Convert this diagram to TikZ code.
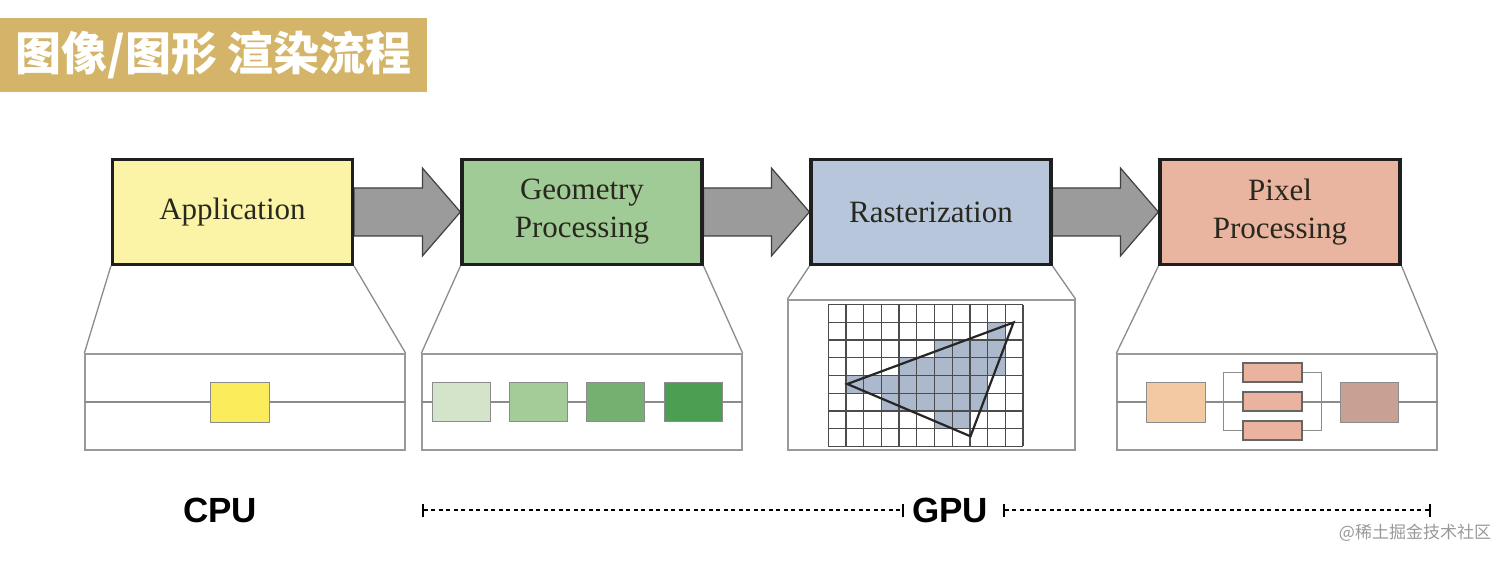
\documentclass[tikz,border=0pt]{standalone}
\usepackage{fontspec}
\setmainfont{Liberation Serif}
\newfontfamily\cjk{Noto Sans CJK SC}
\newfontfamily\hsans{Liberation Sans}
\usetikzlibrary{arrows.meta,calc}
\definecolor{titlebg}{RGB}{211,180,104}
\definecolor{appY}{RGB}{251,244,166}
\definecolor{geoG}{RGB}{160,203,150}
\definecolor{rasB}{RGB}{183,198,219}
\definecolor{pixR}{RGB}{233,180,160}
\definecolor{arrowgray}{RGB}{155,155,155}
\definecolor{yel}{RGB}{251,236,92}
\definecolor{g1}{RGB}{212,228,202}
\definecolor{g2}{RGB}{164,204,152}
\definecolor{g3}{RGB}{118,176,113}
\definecolor{g4}{RGB}{76,158,82}
\definecolor{p1}{RGB}{242,201,163}
\definecolor{p2}{RGB}{233,179,159}
\definecolor{p3}{RGB}{201,160,148}
\definecolor{cellc}{RGB}{172,184,204}
\definecolor{stagetext}{RGB}{40,40,30}
\begin{document}
\begin{tikzpicture}[x=1pt,y=-1pt,
  stage/.style={draw=black!88, line width=3.2pt, minimum width=240pt, minimum height=105pt,
    inner sep=0pt, align=center, font=\fontsize{31}{38}\selectfont, text=stagetext},
  bigarrow/.style={fill=arrowgray, draw=black!75, line width=1.2pt, line join=miter},
  panel/.style={draw=black!40, line width=1.4pt, inner sep=0pt},
  link/.style={draw=black!45, line width=1.3pt},
  sbox/.style={draw=black!45, line width=1pt, inner sep=0pt, minimum width=58pt, minimum height=39pt},
  mbox/.style={draw=black!60, line width=1.2pt, inner sep=0pt, minimum width=59pt, minimum height=19pt, fill=p2},
  gl/.style={draw=black!70, line width=1.3pt},
  dotline/.style={line width=2.4pt, dash pattern=on 4pt off 3.5pt,
    arrows={Bar[width=13pt,line width=2.4pt]-Bar[width=13pt,line width=2.4pt]}},
  hw/.style={font=\hsans\bfseries\fontsize{35}{35}\selectfont, inner sep=0pt}
]
\useasboundingbox (0,0) rectangle (1512,561);
\fill[white] (0,0) rectangle (1512,561);

% title
\node[fill=titlebg, minimum width=427pt, minimum height=74pt, anchor=north west, inner sep=0pt,
  text=white, font=\cjk\bfseries\fontsize{46}{46}\selectfont] (title) at (0,18) {图像/图形 渲染流程};

% stage boxes (positions)
\coordinate (capp) at (232.5,212);
\coordinate (cgeo) at (582,212);
\coordinate (cras) at (931,212);
\coordinate (cpix) at (1280,212);

% panels
\node[panel, minimum width=320pt, minimum height=96pt] (papp) at (245,402) {};
\node[panel, minimum width=320pt, minimum height=96pt] (pgeo) at (582,402) {};
\node[panel, minimum width=287pt, minimum height=150pt] (pras) at (931.5,375) {};
\node[panel, minimum width=320pt, minimum height=96pt] (ppix) at (1277,402) {};

\node[stage, fill=appY] (app) at (capp) {Application};
\node[stage, fill=geoG] (geo) at (cgeo) {Geometry\\Processing};
\node[stage, fill=rasB] (ras) at (cras) {Rasterization};
\node[stage, fill=pixR] (pix) at (cpix) {Pixel\\Processing};

% big arrows between stages
\foreach \a/\b in {app/geo, geo/ras, ras/pix}{
  \path[bigarrow] ($(\a.east)+(0,-24)$) -- ($(\b.west)+(-38,-24)$) -- ($(\b.west)+(-38,-44)$)
    -- (\b.west) -- ($(\b.west)+(-38,44)$) -- ($(\b.west)+(-38,24)$) -- ($(\a.east)+(0,24)$) -- cycle;
}
% redraw boxes on top of arrow starts
\node[stage, fill=appY] at (capp) {Application};
\node[stage, fill=geoG] at (cgeo) {Geometry\\Processing};
\node[stage, fill=rasB] at (cras) {Rasterization};
\node[stage, fill=pixR] at (cpix) {Pixel\\Processing};

% trapezoid links
\foreach \s/\p in {app/papp, geo/pgeo, ras/pras, pix/ppix}{
  \draw[link] (\s.south west) -- (\p.north west);
  \draw[link] (\s.south east) -- (\p.north east);
}

% application panel
\draw[link] (papp.west) -- (papp.east);
\node[sbox, fill=yel, minimum width=59pt, minimum height=40pt] (ay) at (239.5,402) {};

% geometry panel
\draw[link] (pgeo.west) -- (pgeo.east);
\node[sbox, fill=g1] (ga) at (461,401.5) {};
\node[sbox, fill=g2] (gb) at (538,401.5) {};
\node[sbox, fill=g3] (gc) at (615,401.5) {};
\node[sbox, fill=g4] (gd) at (693,401.5) {};

% rasterization panel
\foreach \r/\a/\b in {1/9/9,2/6/9,3/4/9,4/1/8,5/3/8,6/6/7}{
  \foreach \c in {\a,...,\b}{
    \fill[cellc] (828.3+\c*17.7,304.7+\r*17.7) rectangle ++(17.7,17.7);
  }
}
\foreach \i in {0,...,11}{ \draw[gl] (828.3+\i*17.7,304.7) -- (828.3+\i*17.7,446.3); }
\foreach \j in {0,...,8}{ \draw[gl] (828.3,304.7+\j*17.7) -- (1023,304.7+\j*17.7); }
\coordinate (ta) at (847.3,384);
\coordinate (tb) at (1013.5,322.5);
\coordinate (tc) at (970.5,436.3);
\draw[black!85, line width=2.2pt, line join=miter] (ta) -- (tb) -- (tc) -- cycle;

% pixel panel
\draw[link] (ppix.west) -- (ppix.east);
\node[sbox, fill=p1, minimum width=59pt, minimum height=40pt] (pa) at (1175.5,402) {};
\node[mbox] (m1) at (1272.5,372.5) {};
\node[mbox] (m2) at (1272.5,401.5) {};
\node[mbox] (m3) at (1272.5,430.5) {};
\node[sbox, fill=p3, minimum width=58pt, minimum height=40pt] (pd) at (1369,402) {};
\draw[link] (m1.west) -- ++(-19,0) |- (m3.west);
\draw[link] (m1.east) -- ++(19,0) |- (m3.east);

% CPU / GPU
\node[hw] (cpu) at (220,510) {CPU};
\node[hw] (gpu) at (950,510) {GPU};
\coordinate (d1) at (422,510);
\coordinate (d2) at (904,510);
\coordinate (d3) at (1003,510);
\coordinate (d4) at (1431,510);
\draw[dotline] (d1) -- (d2);
\draw[dotline] (d3) -- (d4);

% watermark
\node[font=\cjk\fontsize{17}{17}\selectfont, text=black!40, inner sep=0pt] (wm) at (1415,533) {@稀土掘金技术社区};
\end{tikzpicture}
\end{document}
